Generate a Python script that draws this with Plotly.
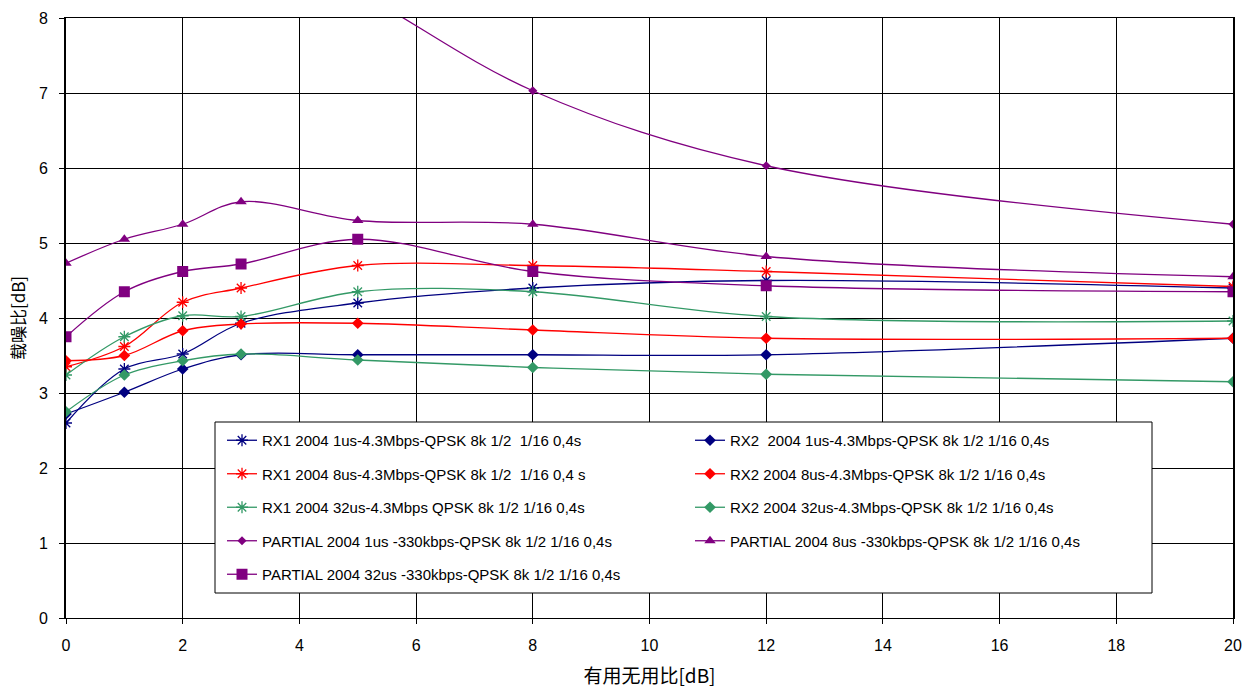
import plotly.graph_objects as go

x_vals = [0, 1, 2, 3, 5, 8, 12, 20]

rx1_1us = [2.60, 3.32, 3.52, 3.93, 4.20, 4.40, 4.50, 4.40]
rx2_1us = [2.72, 3.01, 3.32, 3.51, 3.51, 3.51, 3.51, 3.73]
rx1_8us = [3.35, 3.62, 4.21, 4.40, 4.70, 4.70, 4.62, 4.42]
rx2_8us = [3.43, 3.50, 3.83, 3.92, 3.93, 3.84, 3.73, 3.73]
rx1_32us = [3.24, 3.75, 4.03, 4.02, 4.35, 4.35, 4.02, 3.96]
rx2_32us = [2.75, 3.24, 3.43, 3.52, 3.44, 3.34, 3.25, 3.15]
partial_1us = [11.5, 10.5, 9.7, 9.1, 8.35, 7.03, 6.03, 5.25]
partial_8us = [4.73, 5.05, 5.25, 5.55, 5.30, 5.25, 4.82, 4.55]
partial_32us = [3.75, 4.35, 4.62, 4.72, 5.05, 4.62, 4.43, 4.35]

names = {
    "rx1_1us": "RX1 2004 1us-4.3Mbps-QPSK 8k 1/2  1/16 0,4s",
    "rx2_1us": "RX2  2004 1us-4.3Mbps-QPSK 8k 1/2 1/16 0,4s",
    "rx1_8us": "RX1 2004 8us-4.3Mbps-QPSK 8k 1/2  1/16 0,4 s",
    "rx2_8us": "RX2 2004 8us-4.3Mbps-QPSK 8k 1/2 1/16 0,4s",
    "rx1_32us": "RX1 2004 32us-4.3Mbps QPSK 8k 1/2 1/16 0,4s",
    "rx2_32us": "RX2 2004 32us-4.3Mbps-QPSK 8k 1/2 1/16 0,4s",
    "partial_1us": "PARTIAL 2004 1us -330kbps-QPSK 8k 1/2 1/16 0,4s",
    "partial_8us": "PARTIAL 2004 8us -330kbps-QPSK 8k 1/2 1/16 0,4s",
    "partial_32us": "PARTIAL 2004 32us -330kbps-QPSK 8k 1/2 1/16 0,4s",
}

NAVY = "#000080"
RED = "#FF0000"
GREEN = "#339966"
PURPLE = "#800080"

series = [
    ("rx1_1us", rx1_1us, NAVY, "asterisk-open", 10, "legend"),
    ("rx1_8us", rx1_8us, RED, "asterisk-open", 10, "legend"),
    ("rx1_32us", rx1_32us, GREEN, "asterisk-open", 10, "legend"),
    ("partial_1us", partial_1us, PURPLE, "diamond", 7, "legend"),
    ("partial_32us", partial_32us, PURPLE, "square", 11, "legend"),
    ("rx2_1us", rx2_1us, NAVY, "diamond", 9, "legend2"),
    ("rx2_8us", rx2_8us, RED, "diamond", 9, "legend2"),
    ("rx2_32us", rx2_32us, GREEN, "diamond", 9, "legend2"),
    ("partial_8us", partial_8us, PURPLE, "triangle-up", 10, "legend2"),
]

fig = go.Figure()
for key, ys, color, sym, size, leg in series:
    mk = dict(symbol=sym, size=size, color=color)
    if sym == "asterisk-open":
        mk["line"] = dict(color=color, width=1.3)
    fig.add_trace(go.Scatter(
        x=x_vals, y=ys, name=names[key], mode="lines+markers",
        line=dict(color=color, width=1.3, shape="spline", smoothing=1.0),
        marker=mk, legend=leg, legendgroup=key, cliponaxis=True,
    ))

FONT = "Liberation Sans, Arial, sans-serif"
CJK = "Noto Sans CJK SC"

# legend box (paper coordinates of plot area 66..1233 x, 18..618 y)
fig.add_shape(type="rect", xref="paper", yref="paper",
              x0=(215 - 66) / 1167, x1=(1152 - 66) / 1167,
              y0=(618 - 593) / 600, y1=(618 - 422) / 600,
              line=dict(color="black", width=1), fillcolor="white", layer="above")

leg_common = dict(
    bgcolor="rgba(0,0,0,0)", borderwidth=0,
    font=dict(family=FONT, size=15, color="black"),
    tracegroupgap=11, xanchor="left", yanchor="top", itemwidth=30,
)

fig.update_layout(
    width=1251, height=690,
    margin=dict(l=66, r=18, t=18, b=72),
    paper_bgcolor="white", plot_bgcolor="white",
    font=dict(family=FONT, size=16, color="black"),
    legend=dict(x=(222 - 66) / 1167, y=(618 - 424) / 600, **leg_common),
    legend2=dict(x=(690 - 66) / 1167, y=(618 - 424) / 600, **leg_common),
    xaxis=dict(
        range=[0, 20], dtick=2, tick0=0, automargin=False,
        showgrid=True, gridcolor="black", gridwidth=1,
        showline=True, linecolor="black", linewidth=1, mirror=True,
        ticks="outside", ticklen=5, tickcolor="black",
        tickfont=dict(family=FONT, size=16), ticklabelstandoff=8,
        zeroline=False,
        title=dict(text="有用无用比[dB]", font=dict(family=CJK, size=19), standoff=16),
    ),
    yaxis=dict(
        range=[0, 8], dtick=1, tick0=0, automargin=False,
        showgrid=True, gridcolor="black", gridwidth=1,
        showline=True, linecolor="black", linewidth=2, mirror=True,
        ticks="outside", ticklen=5, tickcolor="black",
        tickfont=dict(family=FONT, size=16), ticklabelstandoff=8,
        zeroline=False,
        title=dict(text="载噪比[dB]", font=dict(family=CJK, size=17), standoff=9),
    ),
)

fig.write_html("out.html")
